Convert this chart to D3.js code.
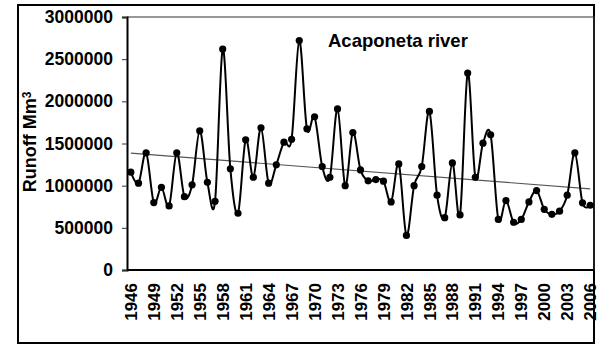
<!DOCTYPE html>
<meta charset="utf-8">
<script src="https://d3js.org/d3.v7.min.js"></script>
<style>
  body { margin: 0; background: #fff; }
  text { font-family: "Liberation Sans", Arial, sans-serif; font-weight: bold; }
</style>
<div id="my_dataviz"></div>
<script>

// annual runoff, Acaponeta river
var years = d3.range(1946, 2007);
var runoff = [1160000, 1030000, 1390000, 800000, 980000, 760000, 1390000, 870000, 1010000, 1650000,
              1040000, 815000, 2620000, 1200000, 673000, 1544000, 1100000, 1686000, 1030000, 1247000,
              1516000, 1550000, 2720000, 1674000, 1817000, 1227000, 1100000, 1910000, 1000000, 1630000,
              1187000, 1057000, 1072000, 1053000, 807000, 1258000, 410000, 1000000, 1227000, 1880000,
              887000, 620000, 1270000, 653000, 2335000, 1100000, 1504000, 1603000, 600000, 823000,
              566000, 600000, 807000, 942000, 720000, 660000, 697000, 887000, 1390000, 796000, 768000];
var labelYears = d3.range(1946, 2007, 3);
var yTicks = [0, 500000, 1000000, 1500000, 2000000, 2500000, 3000000];
// linear trend line, start and end values
var trendYears = [1946, 2006];
var trendValues = [1385000, 962000];

var W = 606, H = 354;
var plotL = 127, plotR = 594, plotT = 17, plotB = 270;

var svg = d3.select("#my_dataviz")
  .append("svg")
    .attr("width", W)
    .attr("height", H);

// outer frame
svg.append("rect")
  .attr("x", 18).attr("y", 5)
  .attr("width", 594 - 18).attr("height", 343 - 5)
  .attr("fill", "none").attr("stroke", "#000").attr("stroke-width", 2);

var x = d3.scaleBand()
  .domain(years)
  .range([plotL, plotR])
  .padding(0);

var y = d3.scaleLinear()
  .domain([0, 3000000])
  .range([plotB, plotT]);

function cx(d) { return x(d) + x.bandwidth() / 2; }

// plot area top/right border
svg.append("path")
  .attr("d", "M" + plotL + "," + plotT + "H" + plotR + "V" + plotB)
  .attr("fill", "none").attr("stroke", "#333").attr("stroke-width", 1.2);

// Y axis
var yAxis = svg.append("g")
  .attr("transform", "translate(" + plotL + ",0)")
  .call(d3.axisLeft(y).tickValues(yTicks).tickFormat(d3.format("d")).tickSize(5).tickPadding(9));
yAxis.select(".domain").attr("stroke", "#000").attr("stroke-width", 2);
yAxis.selectAll(".tick line").attr("stroke", "#333");
yAxis.selectAll("text").attr("font-size", 17.5).attr("fill", "#000")
  .style("font-family", "'Liberation Sans', Arial, sans-serif").style("font-weight", "bold");

// X axis
svg.append("line")
  .attr("x1", plotL).attr("x2", plotR)
  .attr("y1", plotB).attr("y2", plotB)
  .attr("stroke", "#000").attr("stroke-width", 2);

svg.selectAll(".xlab")
  .data(labelYears)
  .enter()
  .append("text")
    .attr("class", "xlab")
    .attr("transform", function(d) { return "translate(" + cx(d) + ",283) rotate(-90)"; })
    .attr("text-anchor", "end")
    .attr("dy", "0.36em")
    .attr("font-size", 17)
    .text(function(d) { return d; });

// axis title
svg.append("text")
  .attr("transform", "translate(30,142) rotate(-90)")
  .attr("text-anchor", "middle")
  .attr("dy", "0.36em")
  .attr("font-size", 18)
  .text("Runoff Mm")
  .append("tspan")
    .attr("dy", "-0.45em")
    .attr("font-size", 12)
    .text("3");

// chart title
svg.append("text")
  .attr("x", 328).attr("y", 47)
  .attr("font-size", 18.5)
  .text("Acaponeta river");

// trend line
svg.append("line")
  .attr("x1", cx(trendYears[0])).attr("y1", y(trendValues[0]))
  .attr("x2", cx(trendYears[1])).attr("y2", y(trendValues[1]))
  .attr("stroke", "#555").attr("stroke-width", 1.2);

// series line (smoothed like the spreadsheet)
var pts = years.map(function(d, i) { return [d, runoff[i]]; });
svg.append("path")
  .datum(pts)
  .attr("fill", "none")
  .attr("stroke", "#000")
  .attr("stroke-width", 2)
  .attr("d", d3.line()
    .curve(d3.curveCardinal.tension(0))
    .x(function(d) { return cx(d[0]); })
    .y(function(d) { return y(d[1]); }));

svg.append("g")
  .selectAll("circle")
  .data(pts)
  .enter()
  .append("circle")
    .attr("cx", function(d) { return cx(d[0]); })
    .attr("cy", function(d) { return y(d[1]); })
    .attr("r", 3.6)
    .attr("fill", "#000");

</script>
